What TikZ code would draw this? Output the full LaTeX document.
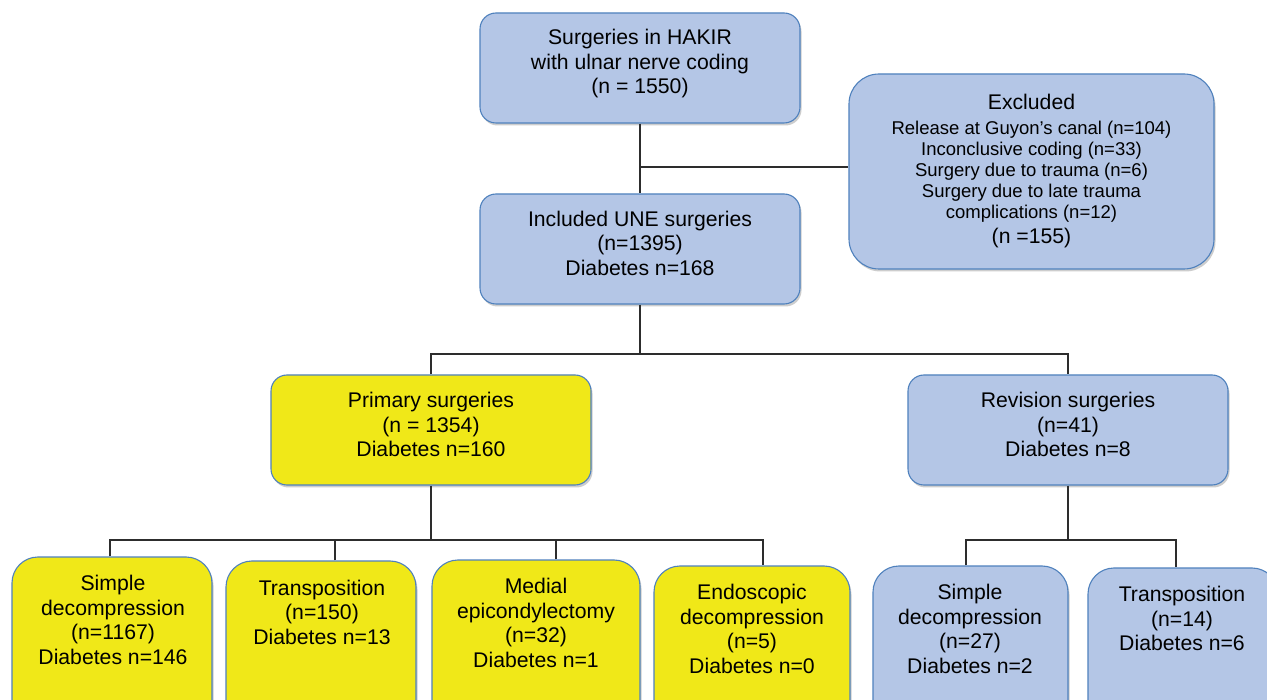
\documentclass[tikz,border=0pt]{standalone}
\usepackage{fontspec}
\setmainfont{Liberation Sans}
\usetikzlibrary{shadows}
\definecolor{boxblue}{RGB}{180,198,230}
\definecolor{edgeblue}{RGB}{79,129,189}
\definecolor{boxyellow}{RGB}{240,232,24}
\definecolor{linegray}{RGB}{45,45,45}
\tikzset{
  basebox/.style={draw=edgeblue, line width=1.1pt, inner sep=0pt,
    drop shadow={shadow xshift=1.5pt, shadow yshift=-2.5pt, opacity=0.28, fill=black!70}},
  bluebox/.style={basebox, fill=boxblue},
  yellowbox/.style={basebox, fill=boxyellow},
  txt/.style={align=center, inner sep=0pt, text=black, font=\fontsize{21.2}{24.5}\selectfont},
  conn/.style={draw=linegray, line width=1.3pt}
}
\begin{document}
\begin{tikzpicture}[x=1pt,y=-1pt]
\useasboundingbox (0,0) rectangle (1267,700);
\clip (0,0) rectangle (1267,700);
\fill[white] (0,0) rectangle (1267,700);

% boxes
\node[bluebox, rounded corners=16pt, minimum width=320pt, minimum height=110pt] (top) at (640,68) {};
\node[bluebox, rounded corners=30pt, minimum width=365pt, minimum height=195pt] (excl) at (1031.5,171.5) {};
\node[bluebox, rounded corners=16pt, minimum width=320pt, minimum height=110pt] (incl) at (640,249) {};
\node[yellowbox, rounded corners=16pt, minimum width=320pt, minimum height=110pt] (prim) at (431,430) {};
\node[bluebox, rounded corners=16pt, minimum width=320pt, minimum height=110pt] (rev) at (1068,430) {};

\node[yellowbox, rounded corners=26pt, minimum width=200pt, minimum height=170pt] (s1) at (112,642) {};
\node[yellowbox, rounded corners=26pt, minimum width=190pt, minimum height=170pt] (s2) at (321,646) {};
\node[yellowbox, rounded corners=26pt, minimum width=208pt, minimum height=170pt] (s3) at (536,645) {};
\node[yellowbox, rounded corners=26pt, minimum width=196pt, minimum height=170pt] (s4) at (752,651) {};
\node[bluebox, rounded corners=26pt, minimum width=195pt, minimum height=170pt] (r1) at (970.5,651) {};
\node[bluebox, rounded corners=26pt, minimum width=190pt, minimum height=170pt] (r2) at (1183,653) {};

% texts
\node[txt] (ttop) at (640,64) {Surgeries in HAKIR\\with ulnar nerve coding\\(n = 1550)};
\node[align=center, inner sep=0pt, font=\fontsize{18.5}{21}\selectfont] (texcl) at (1031.5,171)
  {{\fontsize{21.2}{21}\selectfont Excluded}\\[4pt]
   Release at Guyon’s canal (n=104)\\
   Inconclusive coding (n=33)\\
   Surgery due to trauma (n=6)\\
   Surgery due to late trauma\\
   complications (n=12)\\[4pt]
   {\fontsize{21.2}{21}\selectfont (n =155)}};
\node[txt] (tincl) at (640,243) {Included UNE surgeries\\(n=1395)\\Diabetes n=168};
\node[txt] (tprim) at (431,424.5) {Primary surgeries\\(n = 1354)\\Diabetes n=160};
\node[txt] (trev) at (1068,424.5) {Revision surgeries\\(n=41)\\Diabetes n=8};

\node[txt] (ts1) at (113,620) {Simple\\decompression\\(n=1167)\\Diabetes n=146};
\node[txt] (ts2) at (322,612) {Transposition\\(n=150)\\Diabetes n=13};
\node[txt] (ts3) at (536,623) {Medial\\epicondylectomy\\(n=32)\\Diabetes n=1};
\node[txt] (ts4) at (752,629) {Endoscopic\\decompression\\(n=5)\\Diabetes n=0};
\node[txt] (tr1) at (970,629) {Simple\\decompression\\(n=27)\\Diabetes n=2};
\node[txt] (tr2) at (1182,618.5) {Transposition\\(n=14)\\Diabetes n=6};

% connectors
\coordinate (j1) at (640,167);
\draw[conn] (top.south) -- (incl.north);
\draw[conn] (j1) -- (j1 -| excl.west);

\coordinate (b1) at (640,354);
\draw[conn] (incl.south) -- (b1);
\draw[conn] (prim.north) |- (b1) -| (rev.north);

\coordinate (b2) at (431,540);
\draw[conn] (prim.south) -- (b2);
\draw[conn] ([xshift=-2pt]s1.north) |- (b2) -| ([xshift=11pt]s4.north);
\draw[conn] ([xshift=14pt]s2.north) -- ([xshift=14pt]s2.north |- b2);
\draw[conn] ([xshift=20pt]s3.north) -- ([xshift=20pt]s3.north |- b2);

\coordinate (b3) at (1068,540);
\draw[conn] (rev.south) -- (b3);
\draw[conn] ([xshift=-4.5pt]r1.north) |- (b3) -| ([xshift=-7pt]r2.north);
\end{tikzpicture}
\end{document}
